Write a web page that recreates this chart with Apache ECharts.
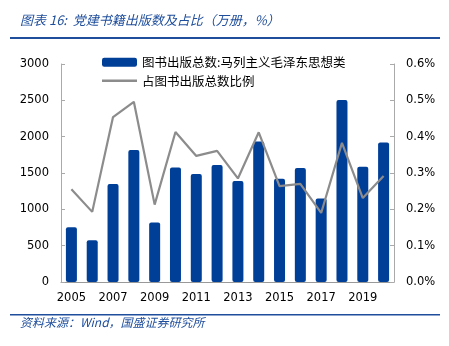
<!DOCTYPE html>
<html><head><meta charset="utf-8">
<script src="https://cdn.jsdelivr.net/npm/echarts@6/dist/echarts.min.js"></script>
<style>html,body{margin:0;padding:0;background:#fff}#c{width:449px;height:346px}</style>
</head><body><div id="c"></div>
<script>
var years = ['2005','2006','2007','2008','2009','2010','2011','2012','2013','2014','2015','2016','2017','2018','2019','2020'];
var bookCounts = [755, 575, 1350, 1815, 820, 1575, 1485, 1610, 1390, 1935, 1420, 1570, 1150, 2505, 1585, 1920];
var shareRatio = [0.255, 0.193, 0.454, 0.496, 0.213, 0.413, 0.347, 0.361, 0.285, 0.412, 0.264, 0.270, 0.190, 0.383, 0.231, 0.292];
var leftTicks = [0, 500, 1000, 1500, 2000, 2500, 3000];
var rightTicks = [0, 0.1, 0.2, 0.3, 0.4, 0.5, 0.6];
var seriesNames = ['图书出版总数:马列主义毛泽东思想类', '占图书出版总数比例'];
var titleText = '图表 16:  党建书籍出版数及占比（万册，%）';
var sourceText = '资料来源：Wind，国盛证券研究所';

var chart = echarts.init(document.getElementById('c'), null, {renderer: 'canvas'});
var font = 'DejaVu Sans';
chart.setOption({
  animation: false,
  backgroundColor: '#fff',
  graphic: [
    {type: 'text', left: 20, top: 14, style: {text: titleText, fill: '#1f4e9c', font: 'italic 13px "Noto Sans CJK SC"'}},
    {type: 'rect', shape: {x: 10, y: 37, width: 430, height: 2}, style: {fill: '#1f4e9c'}},
    {type: 'rect', shape: {x: 10, y: 314, width: 430, height: 1.5}, style: {fill: '#1f4e9c'}},
    {type: 'text', left: 20, top: 316, style: {text: sourceText, fill: '#1f4e9c', font: 'italic 12px "Noto Sans CJK SC"'}}
  ],
  legend: {
    orient: 'vertical', left: 97, top: 51, itemWidth: 35, itemHeight: 9, itemGap: 6,
    symbolKeepAspect: true,
    textStyle: {fontFamily: 'Noto Sans CJK SC', fontSize: 12.5, color: '#000'},
    data: [
      {name: seriesNames[0], icon: 'roundRect'},
      {name: seriesNames[1], icon: 'path://M0,0H35V2.4H0Z', itemStyle: {color: '#8c8c8c'}}
    ]
  },
  grid: {left: 61, right: 55, top: 64, bottom: 64},
  xAxis: {
    type: 'category', data: years, boundaryGap: true,
    axisLine: {lineStyle: {color: '#999'}},
    axisTick: {inside: true, length: 4, lineStyle: {color: '#999'}},
    axisLabel: {interval: 1, color: '#000', fontFamily: font, fontSize: 11.5, margin: 10}
  },
  yAxis: [
    {type: 'value', min: leftTicks[0], max: leftTicks[leftTicks.length-1], interval: 500,
     axisLine: {show: true, lineStyle: {color: '#aaa'}},
     axisTick: {show: true, inside: true, length: 4, lineStyle: {color: '#aaa'}},
     splitLine: {show: false},
     axisLabel: {color: '#000', fontFamily: font, fontSize: 11.5, margin: 12,
       formatter: function (v) { return String(v); }}},
    {type: 'value', min: rightTicks[0], max: rightTicks[rightTicks.length-1], interval: 0.1,
     axisLine: {show: true, lineStyle: {color: '#aaa'}},
     axisTick: {show: true, inside: true, length: 4, lineStyle: {color: '#aaa'}},
     splitLine: {show: false},
     axisLabel: {color: '#000', fontFamily: font, fontSize: 11.5, margin: 12,
       formatter: function (v) { return v.toFixed(1) + '%'; }}}
  ],
  series: [
    {name: seriesNames[0], type: 'bar', data: bookCounts, barWidth: 11, yAxisIndex: 0,
     itemStyle: {color: '#003f98', borderRadius: [2, 2, 2, 2]}},
    {name: seriesNames[1], type: 'line', data: shareRatio, yAxisIndex: 1, symbol: 'none',
     lineStyle: {color: '#8c8c8c', width: 2.2}, itemStyle: {color: '#8c8c8c'}}
  ]
});
</script></body></html>
